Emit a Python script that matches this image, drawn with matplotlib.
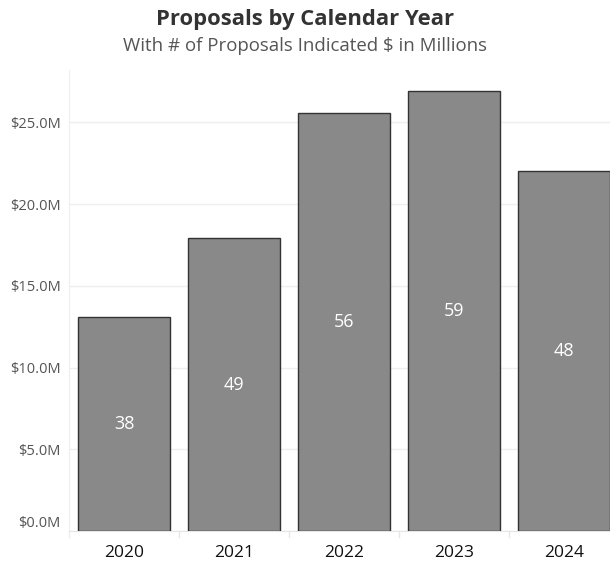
import matplotlib
matplotlib.use("Agg")
import matplotlib.pyplot as plt
import matplotlib.transforms as mtrans
from matplotlib.ticker import FuncFormatter

years = ["2020", "2021", "2022", "2023", "2024"]
amounts_m = [13.1, 17.9, 25.6, 26.9, 22.0]
counts = [38, 49, 56, 59, 48]
y_ticks = [0, 5, 10, 15, 20, 25]

plt.rcParams['font.family'] = ['Open Sans', 'DejaVu Sans']

W, H = 610, 563
fig = plt.figure(figsize=(W / 100, H / 100), dpi=100)
left_px, right_px, top_px, bottom_px = 69, 610, 70, 531
ax = fig.add_axes([left_px / W, (H - bottom_px) / H,
                   (right_px - left_px) / W, (bottom_px - top_px) / H])

x = list(range(len(years)))
ax.bar(x, amounts_m, width=0.83, color="#898989", edgecolor="#333333",
       linewidth=1.0, zorder=3)
for xi, v, c in zip(x, amounts_m, counts):
    ax.text(xi, v / 2, str(c), ha="center", va="center", color="white",
            fontsize=13, zorder=4)

ax.set_xlim(-0.5, -0.5 + (right_px - left_px) / 110)
ax.set_ylim(0, 28.2)
ax.set_yticks(y_ticks)
ax.yaxis.set_major_formatter(FuncFormatter(lambda v, p: f"${v:.1f}M"))
ax.grid(axis="y", color="#efefef", linewidth=1.0, zorder=0)
ax.set_xticks(x)
ax.set_xticklabels(years, fontsize=12.5, color="#111111")
ax.tick_params(axis="x", length=0, pad=10)
ax.tick_params(axis="y", length=0, pad=6, labelsize=10.5, labelcolor="#555555")

for s in ["top", "right"]:
    ax.spines[s].set_visible(False)
ax.spines["left"].set_color("#eeeeee")
ax.spines["bottom"].set_color("#e6e6e6")

# band separators below the axis
for b in [i + 0.5 for i in x[:-1]]:
    ax.plot([b, b], [0, -0.35], color="#e6e6e6", linewidth=1.0,
            clip_on=False, zorder=1)
ax.plot([-0.5, -0.5], [0, -0.35], color="#eeeeee", linewidth=1.0,
        clip_on=False, zorder=1)

fig.canvas.draw()
# shift the $0.0M label up, Tableau style
for lbl in ax.get_yticklabels():
    if lbl.get_text() == "$0.0M":
        lbl.set_transform(lbl.get_transform() +
                          mtrans.ScaledTranslation(0, 10 / 100, fig.dpi_scale_trans))

fig.text(0.5, 1 - 19 / H, "Proposals by Calendar Year", ha="center",
         va="center", fontsize=15.8, fontweight="bold", color="#333333")
fig.text(0.5, 1 - 46 / H, "With # of Proposals Indicated $ in Millions",
         ha="center", va="center", fontsize=13.4, color="#555555")

fig.savefig("out.png", dpi=100)
